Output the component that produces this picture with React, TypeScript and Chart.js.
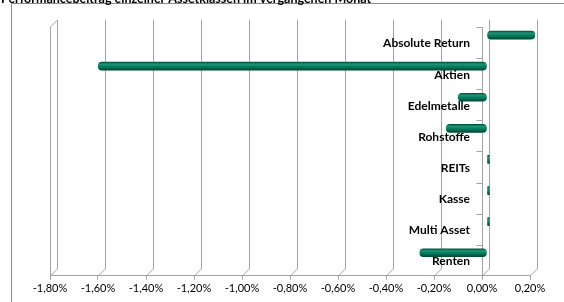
import React, { useEffect, useRef } from "react";
import { Chart, registerables } from "chart.js";

Chart.register(...registerables);

const chartTitle = "Performancebeitrag einzelner Assetklassen im vergangenen Monat";
const categories = [
  "Absolute Return",
  "Aktien",
  "Edelmetalle",
  "Rohstoffe",
  "REITs",
  "Kasse",
  "Multi Asset",
  "Renten",
];
const performance = [0.2, -1.62, -0.12, -0.17, 0.01, 0.01, 0.01, -0.28];
const xMin = -1.8;
const xMax = 0.2;
const xStep = 0.2;

const FONT = "Lato, 'Open Sans', sans-serif";
const GRID = "#a3a3a3";
const DEPTH = 7;

const fmt = (v: number) => v.toFixed(2).replace(".", ",").replace("-0,00", "0,00") + "%";

const depthPlugin = {
  id: "depth3d",
  beforeDraw(chart: any) {
    const { ctx } = chart;
    ctx.save();
    ctx.fillStyle = "#ffffff";
    ctx.fillRect(0, 0, chart.width, chart.height);
    ctx.strokeStyle = "#8c8c8c";
    ctx.lineWidth = 1;
    ctx.beginPath();
    ctx.moveTo(11.5, chart.height);
    ctx.lineTo(11.5, 3.5);
    ctx.lineTo(chart.width, 3.5);
    ctx.stroke();
    ctx.fillStyle = "#000";
    ctx.font = `bold 12.5px ${FONT}`;
    ctx.textBaseline = "alphabetic";
    ctx.textAlign = "left";
    ctx.fillText(chartTitle, 1, 3);
    ctx.restore();
  },
  beforeDatasetsDraw(chart: any) {
    const { ctx, chartArea } = chart;
    const xs = chart.scales.x;
    const ys = chart.scales.y;
    const top = chartArea.top;
    const bottom = chartArea.bottom;
    ctx.save();
    ctx.strokeStyle = GRID;
    ctx.lineWidth = 1;
    ctx.beginPath();
    const n = Math.round((xMax - xMin) / xStep);
    for (let i = 0; i <= n; i++) {
      const v = xMin + i * xStep;
      const xf = Math.round(xs.getPixelForValue(v)) + 0.5;
      const xb = xf + DEPTH;
      ctx.moveTo(xb, top - DEPTH);
      ctx.lineTo(xb, bottom - DEPTH);
      ctx.moveTo(xf, bottom);
      ctx.lineTo(xb, bottom - DEPTH);
    }
    const xl = Math.round(chartArea.left) + 0.5;
    ctx.moveTo(xl, bottom);
    ctx.lineTo(xl, top);
    ctx.lineTo(xl + DEPTH, top - DEPTH);
    // category tick marks at band boundaries
    const x0 = Math.round(xs.getPixelForValue(0)) + 0.5;
    const nCat = ys.getLabels().length;
    const band = (bottom - top) / nCat;
    for (let i = 0; i < nCat; i++) {
      const yb = Math.round(ys.getPixelForValue(i) - band / 2) + 0.5;
      ctx.moveTo(x0 - 6, yb);
      ctx.lineTo(x0, yb);
    }
    ctx.stroke();
    ctx.restore();
    ctx.save();
    ctx.translate(5, -7.5);
  },
  afterDatasetsDraw(chart: any) {
    const { ctx } = chart;
    ctx.restore();
    const xs = chart.scales.x;
    const ys = chart.scales.y;
    const x0 = xs.getPixelForValue(0);
    ctx.save();
    ctx.fillStyle = "#000";
    ctx.font = `bold 12px ${FONT}`;
    ctx.textAlign = "right";
    ctx.textBaseline = "middle";
    ys.getLabels().forEach((lab: string, i: number) => {
      ctx.fillText(lab, x0 - 12, ys.getPixelForValue(i) + 1);
    });
    ctx.restore();
  },
};

export default function App() {
  const ref = useRef<HTMLCanvasElement | null>(null);
  useEffect(() => {
    if (!ref.current) return;
    const chart = new Chart(ref.current, {
      type: "bar",
      data: {
        labels: categories,
        datasets: [
          {
            data: performance,
            barThickness: 8,
            borderRadius: 4,
            borderSkipped: false,
            backgroundColor: (c: any) => {
              const ch = c.chart;
              const ys = ch.scales && ch.scales.y;
              if (!ch.chartArea || !ys || c.dataIndex === undefined) return "#007858";
              const y = ys.getPixelForValue(c.dataIndex);
              const g = ch.ctx.createLinearGradient(0, y - 4, 0, y + 4);
              g.addColorStop(0, "#00523c");
              g.addColorStop(0.25, "#1f9476");
              g.addColorStop(0.6, "#007a5a");
              g.addColorStop(1, "#004633");
              return g;
            },
          },
        ],
      },
      options: {
        indexAxis: "y",
        responsive: false,
        animation: false,
        layout: { padding: { left: 50, right: 34, top: 27, bottom: 5 } },
        plugins: { legend: { display: false }, tooltip: { enabled: false }, title: { display: false } },
        scales: {
          x: {
            type: "linear",
            min: xMin,
            max: xMax,
            grid: { drawOnChartArea: false, drawTicks: true, tickLength: 4, color: GRID },
            border: { display: true, color: GRID },
            ticks: {
              stepSize: xStep,
              padding: 2,
              color: "#000",
              font: { family: FONT, size: 11 },
              maxRotation: 0,
              autoSkip: false,
              callback: (v: any) => fmt(Number(v)),
            },
          },
          y: {
            type: "category",
            position: { x: 0 } as any,
            afterFit: (s: any) => {
              s.width = 0;
            },
            grid: { drawOnChartArea: false, drawTicks: false, offset: true, color: GRID },
            border: { display: true, color: GRID },
            ticks: { display: false },
          },
        },
      },
      plugins: [depthPlugin],
    });
    return () => chart.destroy();
  }, []);
  return (
    <div style={{ position: "fixed", left: 0, top: 0, width: 564, height: 302 }}>
      <canvas ref={ref} width={564} height={302} style={{ display: "block" }} />
    </div>
  );
}
